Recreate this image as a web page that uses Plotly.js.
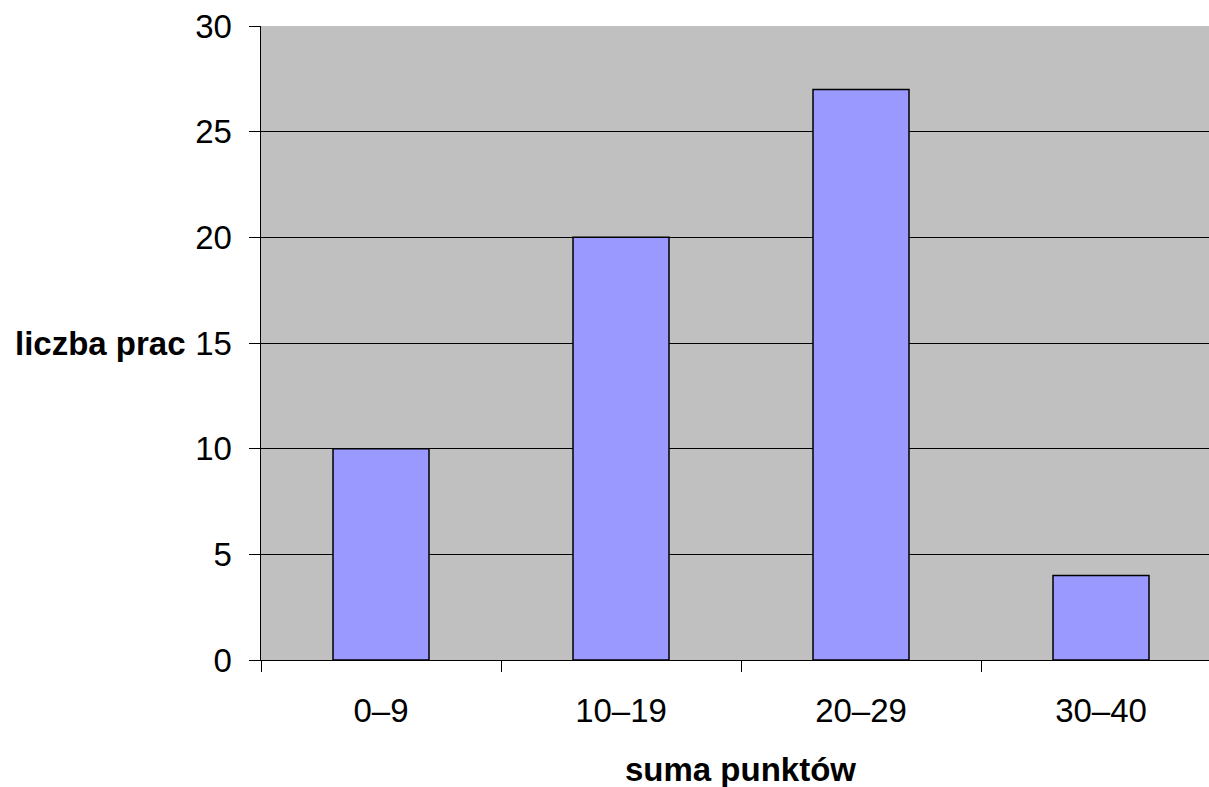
<!DOCTYPE html>
<html>
<head>
<meta charset="utf-8">
<script src="https://cdn.plot.ly/plotly-3.0.1.min.js"></script>
<style>html,body{margin:0;padding:0;background:#fff;}#chart{width:1209px;height:787px;}</style>
</head>
<body>
<div id="chart"></div>
<script>
const categories = ["0–9", "10–19", "20–29", "30–40"];
const counts = [10, 20, 27, 4];
const yTickVals = [0, 5, 10, 15, 20, 25, 30];
const xTitle = "suma punktów";
const yTitle = "liczba prac";

const FONT = "Liberation Sans, Arial, sans-serif";
const FS = 33;

const trace = {
  type: "bar",
  x: categories,
  y: counts,
  marker: { color: "#9999FF", line: { color: "#000000", width: 1.5 } },
  hoverinfo: "x+y"
};

const layout = {
  width: 1209,
  height: 787,
  margin: { l: 261, r: 0, t: 26, b: 127, pad: 0 },
  paper_bgcolor: "#ffffff",
  plot_bgcolor: "#C0C0C0",
  bargap: 0.6,
  showlegend: false,
  font: { family: FONT, color: "#000000", size: FS },
  xaxis: {
    type: "category",
    range: [-0.5, 3.45],
    tickson: "boundaries",
    ticks: "outside",
    ticklen: 11,
    tickwidth: 1,
    tickcolor: "#000000",
    showline: true,
    linecolor: "#000000",
    linewidth: 1,
    showgrid: false,
    zeroline: false,
    ticklabelstandoff: 21,
    tickfont: { family: FONT, size: FS, color: "#000000" }
  },
  yaxis: {
    range: [0, 30],
    tickvals: yTickVals,
    ticktext: yTickVals.map(String),
    ticks: "outside",
    ticklen: 11,
    tickwidth: 1,
    tickcolor: "#000000",
    showline: true,
    linecolor: "#000000",
    linewidth: 1.5,
    showgrid: true,
    gridcolor: "#000000",
    gridwidth: 1,
    zeroline: false,
    ticklabelstandoff: 10,
    tickfont: { family: FONT, size: FS, color: "#000000" }
  },
  annotations: [
    {
      xref: "paper", yref: "paper",
      x: 0.5063, y: -0.1735,
      xanchor: "center", yanchor: "middle",
      text: "<b>" + xTitle + "</b>",
      showarrow: false,
      font: { family: FONT, size: FS, color: "#000000" }
    },
    {
      xref: "paper", yref: "y",
      x: -0.077, y: 15,
      xanchor: "right", yanchor: "middle",
      text: "<b>" + yTitle + "</b>",
      showarrow: false,
      font: { family: FONT, size: FS, color: "#000000" }
    }
  ]
};

Plotly.newPlot("chart", [trace], layout, { displayModeBar: false, staticPlot: true });
</script>
</body>
</html>
